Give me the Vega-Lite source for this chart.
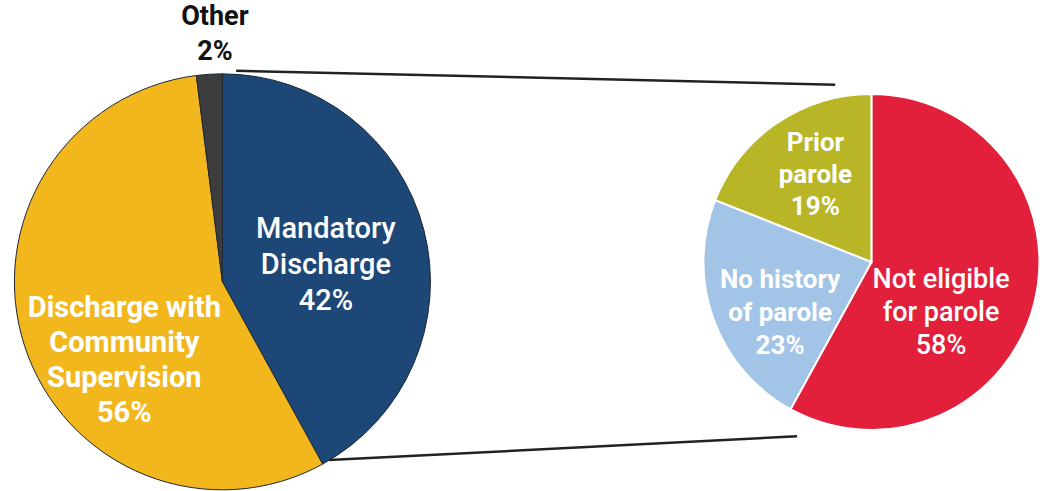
{
  "$schema": "https://vega.github.io/schema/vega-lite/v6.json",
  "width": 1040,
  "height": 491,
  "autosize": {"type": "fit", "contains": "padding"},
  "padding": 0,
  "background": "white",
  "config": {"view": {"stroke": null}, "text": {"font": "Roboto"}},
  "datasets": {
    "left": [
      {"cat": "Mandatory Discharge", "value": 42, "ord": 1, "lbl": "Mandatory\nDischarge\n42%"},
      {"cat": "Discharge with Community Supervision", "value": 56, "ord": 2, "lbl": "Discharge with\nCommunity\nSupervision\n56%"},
      {"cat": "Other", "value": 2, "ord": 3, "lbl": "Other\n2%"}
    ],
    "right": [
      {"cat": "Not eligible for parole", "value": 58, "ord": 1, "lbl": "Not eligible\nfor parole\n58%"},
      {"cat": "No history of parole", "value": 23, "ord": 2, "lbl": "No history\nof parole\n23%"},
      {"cat": "Prior parole", "value": 19, "ord": 3, "lbl": "Prior\nparole\n19%"}
    ]
  },
  "layer": [
    {
      "data": {"name": "left"},
      "mark": {"type": "arc", "radius": 208, "stroke": "#1c2733", "strokeWidth": 1},
      "encoding": {
        "x": {"datum": 216, "type": "quantitative", "scale": {"domain": [0, 1040], "nice": false, "zero": false}, "axis": null},
        "y": {"datum": 283, "type": "quantitative", "scale": {"domain": [0, 491], "nice": false, "zero": false, "reverse": true}, "axis": null},
        "theta": {"field": "value", "type": "quantitative", "stack": true},
        "order": {"field": "ord"},
        "color": {
          "field": "cat", "type": "nominal", "legend": null,
          "scale": {
            "domain": ["Mandatory Discharge", "Discharge with Community Supervision", "Other", "Not eligible for parole", "No history of parole", "Prior parole"],
            "range": ["#1c4777", "#f3b71e", "#3d3d3d", "#e2203b", "#a2c4e6", "#b8b626"]
          }
        }
      }
    },
    {
      "data": {"name": "right"},
      "mark": {"type": "arc", "radius": 168, "stroke": "white", "strokeWidth": 2},
      "encoding": {
        "x": {"datum": 879, "type": "quantitative"},
        "y": {"datum": 263, "type": "quantitative"},
        "theta": {"field": "value", "type": "quantitative", "stack": true},
        "order": {"field": "ord"},
        "color": {"field": "cat", "type": "nominal", "legend": null}
      }
    },
    {
      "data": {"values": [{}]},
      "mark": {"type": "rule", "color": "#222222", "strokeWidth": 2.5},
      "encoding": {
        "x": {"datum": 230, "type": "quantitative"},
        "y": {"datum": 71, "type": "quantitative"},
        "x2": {"datum": 842},
        "y2": {"datum": 85}
      }
    },
    {
      "data": {"values": [{}]},
      "mark": {"type": "rule", "color": "#222222", "strokeWidth": 2.5},
      "encoding": {
        "x": {"datum": 325, "type": "quantitative"},
        "y": {"datum": 462, "type": "quantitative"},
        "x2": {"datum": 803},
        "y2": {"datum": 438}
      }
    },
    {
      "data": {"name": "left"},
      "mark": {"type": "text", "radius": 112, "dx": -5, "dy": -25, "fontSize": 29, "fontWeight": 500, "lineHeight": 36, "color": "white", "lineBreak": "\n", "align": "center", "baseline": "middle"},
      "encoding": {
        "x": {"datum": 216, "type": "quantitative"},
        "y": {"datum": 283, "type": "quantitative"},
        "theta": {"field": "value", "type": "quantitative", "stack": true},
        "order": {"field": "ord"},
        "text": {"condition": {"test": "datum.ord === 1", "field": "lbl"}, "value": ""}
      }
    },
    {
      "data": {"name": "left"},
      "mark": {"type": "text", "radius": 100, "dx": -3, "dy": -5, "fontSize": 29, "fontWeight": "bold", "lineHeight": 35, "color": "white", "lineBreak": "\n", "align": "center", "baseline": "middle"},
      "encoding": {
        "x": {"datum": 216, "type": "quantitative"},
        "y": {"datum": 283, "type": "quantitative"},
        "theta": {"field": "value", "type": "quantitative", "stack": true},
        "order": {"field": "ord"},
        "text": {"condition": {"test": "datum.ord === 2", "field": "lbl"}, "value": ""}
      }
    },
    {
      "data": {"name": "left"},
      "mark": {"type": "text", "radius": 247, "dx": 8, "dy": -18, "fontSize": 27, "fontWeight": "bold", "lineHeight": 35, "color": "#111111", "lineBreak": "\n", "align": "center", "baseline": "middle"},
      "encoding": {
        "x": {"datum": 216, "type": "quantitative"},
        "y": {"datum": 283, "type": "quantitative"},
        "theta": {"field": "value", "type": "quantitative", "stack": true},
        "order": {"field": "ord"},
        "text": {"condition": {"test": "datum.ord === 3", "field": "lbl"}, "value": ""}
      }
    },
    {
      "data": {"name": "right"},
      "mark": {"type": "text", "radius": 75, "dx": -3, "dy": -1, "fontSize": 27, "fontWeight": 500, "lineHeight": 33, "color": "white", "lineBreak": "\n", "align": "center", "baseline": "middle"},
      "encoding": {
        "x": {"datum": 879, "type": "quantitative"},
        "y": {"datum": 263, "type": "quantitative"},
        "theta": {"field": "value", "type": "quantitative", "stack": true},
        "order": {"field": "ord"},
        "text": {"condition": {"test": "datum.ord === 1", "field": "lbl"}, "value": ""}
      }
    },
    {
      "data": {"name": "right"},
      "mark": {"type": "text", "radius": 97, "dy": -15, "fontSize": 26, "fontWeight": "bold", "lineHeight": 33, "color": "white", "lineBreak": "\n", "align": "center", "baseline": "middle"},
      "encoding": {
        "x": {"datum": 879, "type": "quantitative"},
        "y": {"datum": 263, "type": "quantitative"},
        "theta": {"field": "value", "type": "quantitative", "stack": true},
        "order": {"field": "ord"},
        "text": {"condition": {"test": "datum.ord === 2", "field": "lbl"}, "value": ""}
      }
    },
    {
      "data": {"name": "right"},
      "mark": {"type": "text", "radius": 105, "dx": 3, "dy": -32, "fontSize": 26, "fontWeight": "bold", "lineHeight": 32, "color": "white", "lineBreak": "\n", "align": "center", "baseline": "middle"},
      "encoding": {
        "x": {"datum": 879, "type": "quantitative"},
        "y": {"datum": 263, "type": "quantitative"},
        "theta": {"field": "value", "type": "quantitative", "stack": true},
        "order": {"field": "ord"},
        "text": {"condition": {"test": "datum.ord === 3", "field": "lbl"}, "value": ""}
      }
    }
  ]
}
